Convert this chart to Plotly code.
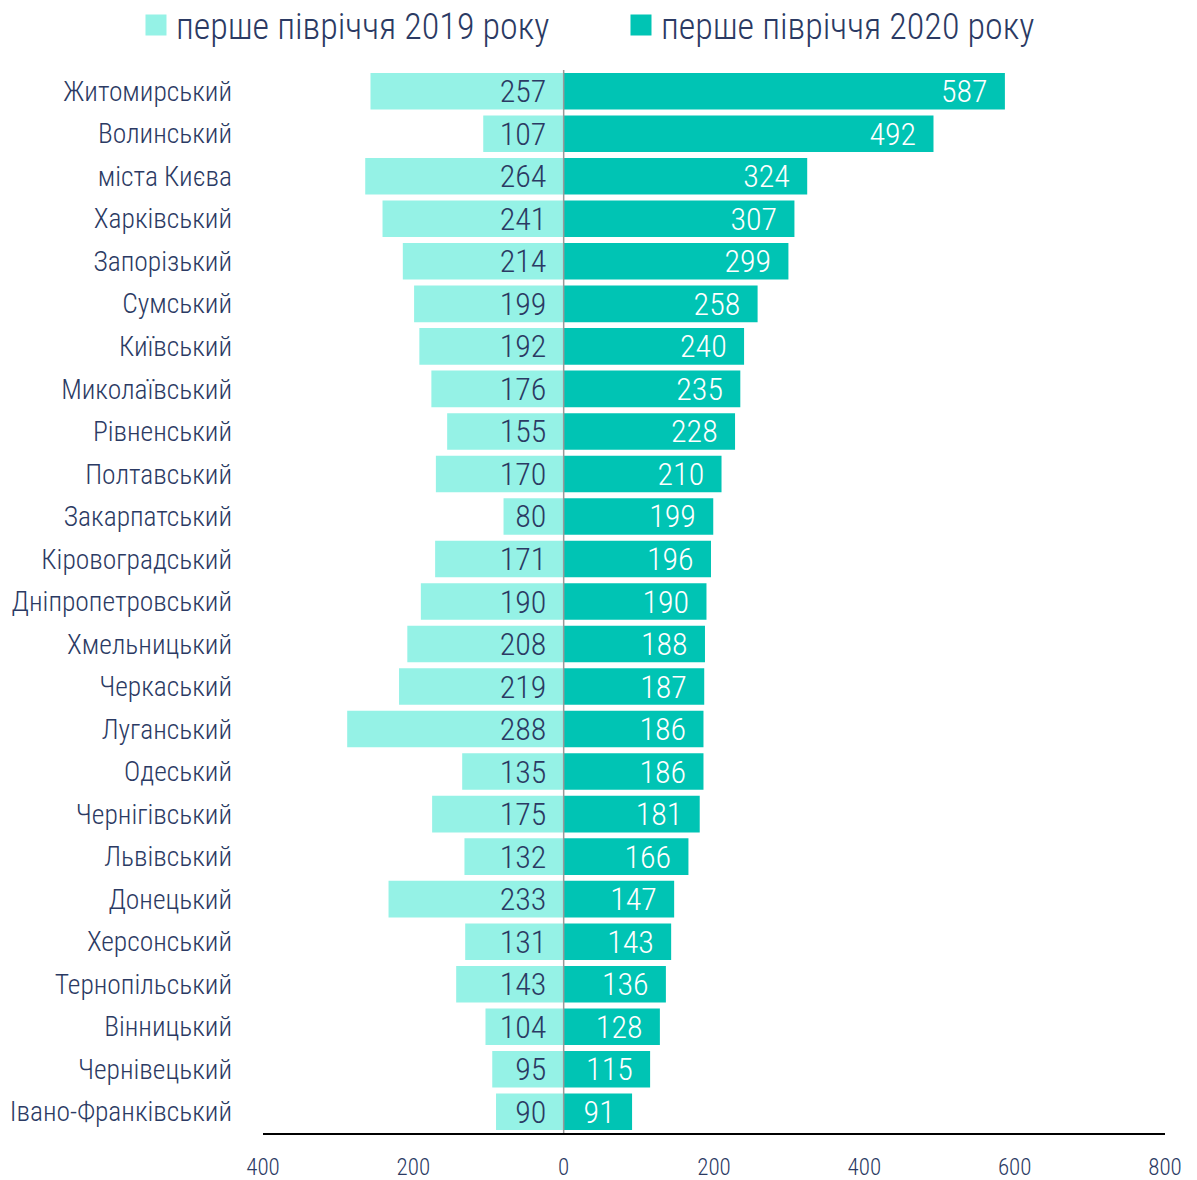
import plotly.graph_objects as go

regions = ["Житомирський", "Волинський", "міста Києва", "Харківський", "Запорізький",
           "Сумський", "Київський", "Миколаївський", "Рівненський", "Полтавський",
           "Закарпатський", "Кіровоградський", "Дніпропетровський", "Хмельницький",
           "Черкаський", "Луганський", "Одеський", "Чернігівський", "Львівський",
           "Донецький", "Херсонський", "Тернопільський", "Вінницький", "Чернівецький",
           "Івано-Франківський"]
h1_2019 = [257, 107, 264, 241, 214, 199, 192, 176, 155, 170, 80, 171, 190, 208, 219,
           288, 135, 175, 132, 233, 131, 143, 104, 95, 90]
h1_2020 = [587, 492, 324, 307, 299, 258, 240, 235, 228, 210, 199, 196, 190, 188, 187,
           186, 186, 181, 166, 147, 143, 136, 128, 115, 91]
series_names = ["перше півріччя 2019 року", "перше півріччя 2020 року"]
tick_vals = [-400, -200, 0, 200, 400, 600, 800]
tick_text = ["400", "200", "0", "200", "400", "600", "800"]

FONT = "Roboto Condensed, Liberation Sans Narrow, Roboto, sans-serif"
NAVY = "#2b3a63"
C19 = "#95f2e6"
C20 = "#00c4b4"

fig = go.Figure()
fig.add_trace(go.Bar(
    y=regions, x=[-v for v in h1_2019], orientation="h",
    name=series_names[0], marker=dict(color=C19, line=dict(width=0)),
    text=[f"{v}\u2002" for v in h1_2019], textposition="inside", insidetextanchor="start",
    constraintext="none", textangle=0, showlegend=False,
    insidetextfont=dict(family=FONT, size=32, color=NAVY, weight=300),
))
fig.add_trace(go.Bar(
    y=regions, x=h1_2020, orientation="h",
    name=series_names[1], marker=dict(color=C20, line=dict(width=0)),
    text=[f"{v}\u2002" for v in h1_2020], textposition="inside", insidetextanchor="end",
    constraintext="none", textangle=0, showlegend=False,
    insidetextfont=dict(family=FONT, size=32, color="white", weight=300),
))
# legend entries with large square swatches
for nm, col in zip(series_names, [C19, C20]):
    fig.add_trace(go.Scatter(
        x=[None], y=[None], mode="markers", name=nm,
        marker=dict(symbol="square", size=23, color=col, line=dict(color=col, width=6)),
        showlegend=True,
    ))

fig.add_shape(type="line", xref="x", yref="paper", x0=0, x1=0, y0=0, y1=1,
              line=dict(color="#999999", width=1.5), layer="above")

fig.update_layout(
    width=1189, height=1172,
    margin=dict(l=255, r=32, t=62, b=47, autoexpand=False),
    paper_bgcolor="white", plot_bgcolor="white",
    barmode="overlay", bargap=0.14,
    font=dict(family=FONT, color=NAVY, weight=300),
    showlegend=True,
    legend=dict(orientation="h", xref="paper", x=-0.1408, xanchor="left",
                y=1.0423, yanchor="middle", yref="paper",
                font=dict(size=36, color=NAVY, weight=300),
                bgcolor="rgba(0,0,0,0)", traceorder="normal",
                entrywidth=440, entrywidthmode="pixels", itemwidth=30),
    xaxis=dict(range=[-400, 800], tickvals=tick_vals, ticktext=tick_text,
               showgrid=False, zeroline=False, showline=True, linecolor="black",
               linewidth=2, ticks="", ticklabelstandoff=12, automargin=False,
               tickfont=dict(size=23, color=NAVY, weight=300)),
    yaxis=dict(autorange="reversed", showgrid=False, zeroline=False, showline=False,
               ticks="", ticklabelstandoff=30, automargin=False,
               tickfont=dict(size=27.5, color=NAVY, weight=300)),
)

fig.write_html("out.html")
